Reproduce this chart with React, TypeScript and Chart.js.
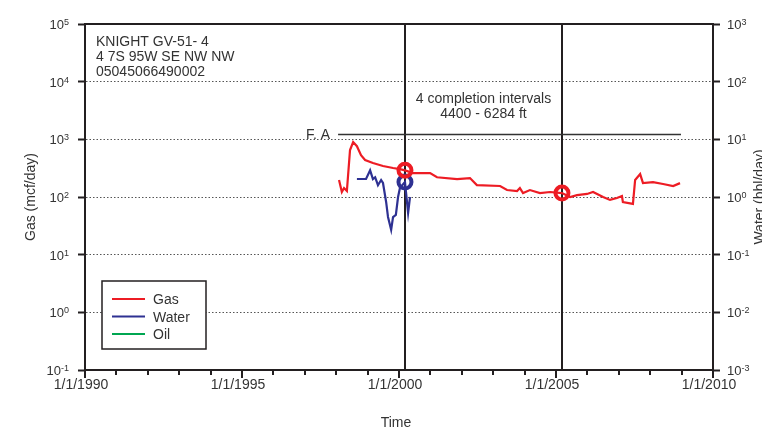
import React, { useEffect, useRef } from "react";
import { Chart, registerables } from "chart.js";

Chart.register(...registerables);

// ---- data ----
const gasDates = [
  1998.09, 1998.18, 1998.25, 1998.34, 1998.44, 1998.54, 1998.66, 1998.79, 1998.92,
  1999.17, 1999.49, 1999.81, 2000.03, 2000.19, 2000.45, 2000.76, 2000.99, 2001.21,
  2001.85, 2002.26, 2002.48, 2003.22, 2003.44, 2003.76, 2003.85, 2003.95, 2004.17,
  2004.49, 2004.81, 2005.19, 2005.45, 2005.67, 2005.99, 2006.18, 2006.5, 2006.72,
  2006.94, 2007.1, 2007.13, 2007.45, 2007.52, 2007.68, 2007.77, 2008.09, 2008.41,
  2008.73, 2008.95,
];
const gasValues = [
  197, 122, 143, 127, 650, 895, 760, 530, 437,
  388, 345, 318, 305, 290, 260, 260, 260, 220,
  205, 213, 161, 155, 132, 127, 143, 117, 132,
  117, 122, 117, 100, 108, 113, 122, 100, 89,
  96, 104, 82, 76, 197, 250, 174, 181, 168,
  155, 174,
];
const waterDates = [
  1998.66, 1998.95, 1999.08, 1999.17, 1999.24, 1999.33, 1999.43, 1999.49, 1999.59,
  1999.65, 1999.75, 1999.81, 1999.9, 1999.97, 2000.03, 2000.19, 2000.29, 2000.35,
];
const waterValues = [
  2.05, 2.05, 2.9, 2.05, 2.2, 1.6, 1.97, 1.75, 0.82,
  0.45, 0.27, 0.45, 0.49, 1.0, 1.43, 1.82, 0.53, 1.0,
];
const oilDates: number[] = [];
const oilValues: number[] = [];

const completionDates = [2000.19, 2005.19];
const gasMarkerDates = [2000.19, 2005.19];
const gasMarkerValues = [292, 117];
const waterMarkerDates = [2000.19];
const waterMarkerValues = [1.82];
const faDates = [1998.06, 2008.98];
const faLevel = 1250;

const xMin = 1990;
const xMax = 2010;
const xLabelYears = [1990, 1995, 2000, 2005, 2010];
const gasExponents = [-1, 0, 1, 2, 3, 4, 5];
const waterExponents = [-3, -2, -1, 0, 1, 2, 3];

const wellInfo = ["KNIGHT GV-51- 4", "4 7S 95W SE NW NW", "05045066490002"];
const completionText = ["4 completion intervals", "4400 - 6284 ft"];
const faText = "F. A";
const legendLabels = ["Gas", "Water", "Oil"];
const gasTitle = "Gas (mcf/day)";
const waterTitle = "Water (bbl/day)";
const timeTitle = "Time";

// ---- styles ----
const GAS = "#ED1C24";
const WATER = "#2E3192";
const OIL = "#00A651";
const INK = "#231F20";
const TEXT = "#333333";
const FONT = "'Liberation Sans', Arial, sans-serif";

const zip = (xs: number[], ys: number[]) => xs.map((x, i) => ({ x, y: ys[i] }));

const decor = {
  id: "decor",
  beforeDatasetsDraw(chart: any) {
    const { ctx, chartArea: ca, scales } = chart;
    const x = scales.x;
    const y = scales.y;
    ctx.save();
    ctx.strokeStyle = INK;
    ctx.lineWidth = 2;
    completionDates.forEach((d) => {
      const px = Math.round(x.getPixelForValue(d));
      ctx.beginPath();
      ctx.moveTo(px, ca.top);
      ctx.lineTo(px, ca.bottom);
      ctx.stroke();
    });
    const fy = Math.round(y.getPixelForValue(faLevel)) + 0.5;
    ctx.lineWidth = 1.5;
    ctx.strokeStyle = "#333";
    ctx.beginPath();
    ctx.moveTo(x.getPixelForValue(faDates[0]), fy);
    ctx.lineTo(x.getPixelForValue(faDates[1]), fy);
    ctx.stroke();
    ctx.restore();
  },
  afterDraw(chart: any) {
    const { ctx, chartArea: ca, scales } = chart;
    const x = scales.x;
    const y = scales.y;
    const y2 = scales.y2;
    ctx.save();

    // top frame
    ctx.strokeStyle = INK;
    ctx.lineWidth = 2;
    ctx.beginPath();
    ctx.moveTo(ca.left - 1, ca.top);
    ctx.lineTo(ca.right + 1, ca.top);
    ctx.stroke();

    // x ticks (major every 5 years, minor yearly)
    for (let yr = xMin; yr <= xMax; yr++) {
      const px = Math.round(x.getPixelForValue(yr));
      const len = yr % 5 === 0 ? 8 : 5;
      ctx.beginPath();
      ctx.moveTo(px, ca.bottom);
      ctx.lineTo(px, ca.bottom + len);
      ctx.stroke();
    }

    // x labels
    ctx.fillStyle = TEXT;
    ctx.font = `14px ${FONT}`;
    ctx.textAlign = "center";
    ctx.textBaseline = "alphabetic";
    xLabelYears.forEach((yr) => {
      const px = x.getPixelForValue(yr);
      ctx.fillText(`1/1/${yr}`, px - 4, ca.bottom + 19);
    });

    // y labels with superscripts
    const drawPow = (exp: number, py: number, xpos: number, alignRight: boolean) => {
      ctx.font = `13px ${FONT}`;
      const baseW = ctx.measureText("10").width;
      ctx.font = `9px ${FONT}`;
      const expStr = String(exp);
      const expW = ctx.measureText(expStr).width;
      const start = alignRight ? xpos - baseW - expW : xpos;
      ctx.textAlign = "left";
      ctx.font = `13px ${FONT}`;
      ctx.fillText("10", start, py + 5);
      ctx.font = `9px ${FONT}`;
      ctx.fillText(expStr, start + baseW, py + 1);
    };
    gasExponents.forEach((e) => {
      drawPow(e, y.getPixelForValue(Math.pow(10, e)), ca.left - 16, true);
    });
    waterExponents.forEach((e) => {
      drawPow(e, y2.getPixelForValue(Math.pow(10, e)), ca.right + 14, false);
    });

    // axis titles
    ctx.font = `14px ${FONT}`;
    ctx.textAlign = "center";
    ctx.textBaseline = "alphabetic";
    const midY = (ca.top + ca.bottom) / 2;
    ctx.save();
    ctx.translate(35, midY);
    ctx.rotate(-Math.PI / 2);
    ctx.fillText(gasTitle, 0, 0);
    ctx.restore();
    ctx.save();
    ctx.translate(764, midY);
    ctx.rotate(-Math.PI / 2);
    ctx.fillText(waterTitle, 0, 0);
    ctx.restore();
    ctx.fillText(timeTitle, (ca.left + ca.right) / 2 - 3, 427);

    // well info
    ctx.font = `14px ${FONT}`;
    ctx.textAlign = "left";
    wellInfo.forEach((t, i) => ctx.fillText(t, ca.left + 11, ca.top + 22 + i * 15));

    // completion text
    const cx = (x.getPixelForValue(completionDates[0]) + x.getPixelForValue(completionDates[1])) / 2;
    ctx.textAlign = "center";
    completionText.forEach((t, i) => ctx.fillText(t, cx, 103 + i * 15));

    // F. A label
    ctx.textAlign = "right";
    const fy = y.getPixelForValue(faLevel);
    ctx.fillText(faText, x.getPixelForValue(faDates[0]) - 8, fy + 5);

    // legend
    const lx = 102, ly = 281, lw = 104, lh = 68;
    ctx.fillStyle = "#fff";
    ctx.fillRect(lx, ly, lw, lh);
    ctx.strokeStyle = INK;
    ctx.lineWidth = 1.5;
    ctx.strokeRect(lx, ly, lw, lh);
    const cols = [GAS, WATER, OIL];
    ctx.textAlign = "left";
    ctx.font = `14px ${FONT}`;
    legendLabels.forEach((t, i) => {
      const yy = ly + 18 + i * 17.5;
      ctx.strokeStyle = cols[i];
      ctx.lineWidth = 2;
      ctx.beginPath();
      ctx.moveTo(lx + 10, yy);
      ctx.lineTo(lx + 43, yy);
      ctx.stroke();
      ctx.fillStyle = TEXT;
      ctx.fillText(t, lx + 51, yy + 5);
    });

    ctx.restore();
  },
};

export default function App() {
  const ref = useRef<HTMLCanvasElement | null>(null);
  useEffect(() => {
    if (!ref.current) return;
    const chart = new Chart(ref.current, {
      type: "line",
      data: {
        datasets: [
          {
            label: "Gas",
            data: zip(gasDates, gasValues),
            yAxisID: "y",
            borderColor: GAS,
            borderWidth: 2.2,
            pointRadius: 0,
            fill: false,
            tension: 0,
          },
          {
            label: "Water",
            data: zip(waterDates, waterValues),
            yAxisID: "y2",
            borderColor: WATER,
            borderWidth: 2.2,
            pointRadius: 0,
            fill: false,
            tension: 0,
          },
          {
            label: "Oil",
            data: zip(oilDates, oilValues),
            yAxisID: "y2",
            borderColor: OIL,
            borderWidth: 2,
            pointRadius: 0,
            fill: false,
          },
          {
            label: "Gas completion",
            data: zip(gasMarkerDates, gasMarkerValues),
            yAxisID: "y",
            showLine: false,
            pointRadius: 6.5,
            pointBorderWidth: 4,
            pointBorderColor: GAS,
            pointBackgroundColor: "rgba(0,0,0,0)",
            borderColor: GAS,
          },
          {
            label: "Water completion",
            data: zip(waterMarkerDates, waterMarkerValues),
            yAxisID: "y2",
            showLine: false,
            pointRadius: 6.5,
            pointBorderWidth: 4,
            pointBorderColor: WATER,
            pointBackgroundColor: "rgba(0,0,0,0)",
            borderColor: WATER,
          },
        ],
      },
      options: {
        animation: false,
        responsive: true,
        maintainAspectRatio: false,
        events: [],
        layout: { padding: { top: 24, left: 0, right: 0, bottom: 0 } },
        plugins: { legend: { display: false }, tooltip: { enabled: false } },
        scales: {
          x: {
            type: "linear",
            min: xMin,
            max: xMax,
            position: "bottom",
            grid: { display: false },
            ticks: { display: false },
            border: { display: true, color: INK, width: 2 },
            afterFit: (s: any) => {
              s.height = 61;
            },
          },
          y: {
            type: "logarithmic",
            position: "left",
            min: 0.1,
            max: 100000,
            afterBuildTicks: (s: any) => {
              s.ticks = gasExponents.map((e) => ({ value: Math.pow(10, e) }));
            },
            ticks: { display: false },
            grid: {
              color: "#555",
              lineWidth: 1,
              drawTicks: true,
              tickLength: 7,
              tickColor: INK,
              tickWidth: 2,
            },
            border: { display: true, color: INK, width: 2, dash: [1.5, 2] },
            afterFit: (s: any) => {
              s.width = 85;
            },
          },
          y2: {
            type: "logarithmic",
            position: "right",
            min: 0.001,
            max: 1000,
            afterBuildTicks: (s: any) => {
              s.ticks = waterExponents.map((e) => ({ value: Math.pow(10, e) }));
            },
            ticks: { display: false },
            grid: {
              drawOnChartArea: false,
              drawTicks: true,
              tickLength: 7,
              tickColor: INK,
              tickWidth: 2,
            },
            border: { display: true, color: INK, width: 2 },
            afterFit: (s: any) => {
              s.width = 49;
            },
          },
        },
      },
      plugins: [decor],
    });
    return () => chart.destroy();
  }, []);

  return (
    <div style={{ position: "fixed", left: 0, top: 0, width: 762, height: 431, background: "#fff" }}>
      <canvas ref={ref} />
    </div>
  );
}
